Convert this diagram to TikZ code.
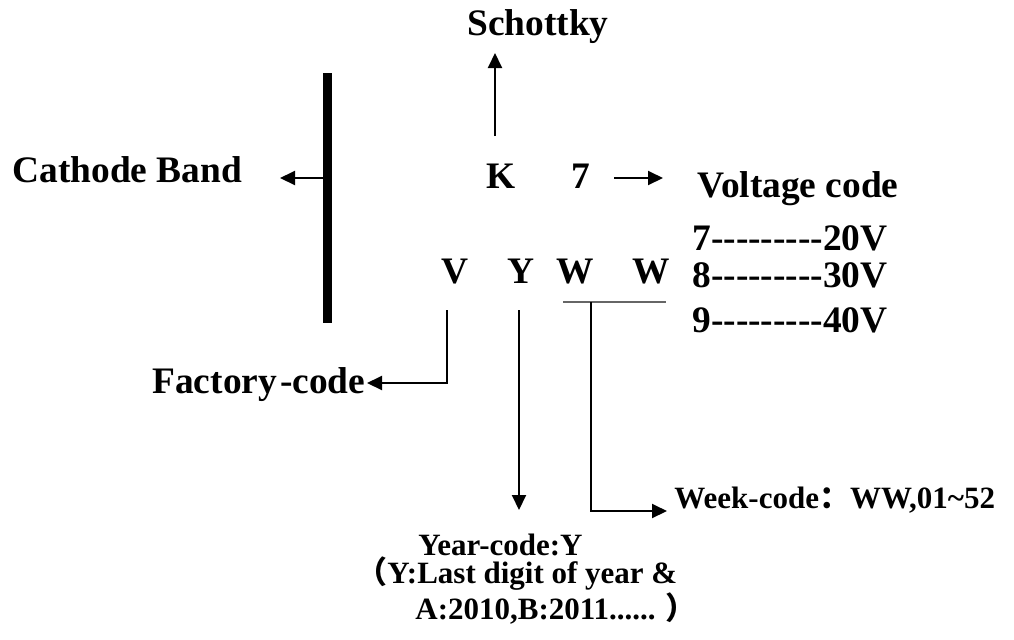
\documentclass[tikz,border=0pt]{standalone}
\usepackage{fontspec}
\setmainfont{Liberation Serif}
\newfontfamily\cjk{Noto Sans CJK SC}
\usetikzlibrary{arrows.meta, calc}

\newcommand{\hy}{\mbox{-}}
\newcommand{\dashrun}{\hy\hy\hy\hy\hy\hy\hy\hy\hy}

\begin{document}
\begin{tikzpicture}[x=0.5pt, y=-0.5pt,
        big/.style={font=\bfseries\fontsize{18.7}{20}\selectfont, inner sep=0pt},
        small/.style={font=\bfseries\fontsize{15.5}{14.2}\selectfont, inner sep=0pt},
        arr/.style={-{Triangle[length=7.5pt,width=7pt]}, line width=1pt},
        wire/.style={line width=1pt}]
        \useasboundingbox (0,0) rectangle (1014,639);

        % marking on the part
        \node[big, anchor=base] (K) at (501,188) {K};
        \node[big, anchor=base] (seven) at (581,188) {7};
        \node[big, anchor=base] (V) at (455,283) {V};
        \node[big, anchor=base] (Y) at (521,283) {Y};
        \node[big, anchor=base] (W1) at (575,283) {W};
        \node[big, anchor=base] (W2) at (651,283) {W};

        % labels
        \node[big, anchor=base] (schottky) at (538,35) {Schottky};
        \node[big, anchor=base west] (cathode) at (12,182) {Cathode Band};
        \node[big, anchor=base west] (volt) at (697,197) {Voltage code};
        \node[big, anchor=base west] (v20) at (692,250) {7\dashrun20V};
        \node[big, anchor=base west] (v30) at (692,287) {8\dashrun30V};
        \node[big, anchor=base west] (v40) at (692,332) {9\dashrun40V};
        \node[big, anchor=base west] (factory) at (152,393) {Factory\hspace{1.5pt}-code};
        \node[small, anchor=base west] (week) at (674,508) {Week-code{\cjk ：}WW,01\textasciitilde52};
        \node[small, anchor=base west, align=left] (year) at (356,619)
            {\hspace*{31pt}Year-code:Y\\
             {\cjk （}Y:Last digit of year \&\\
             \hspace*{29.5pt}A:2010,B:2011...... {\cjk ）}};

        % cathode band
        \coordinate (bandtop) at (327.5,73);
        \coordinate (bandbot) at (327.5,323);
        \draw[line width=4.5pt] (bandtop) -- (bandbot);

        % end points of the connectors
        \coordinate (bandmid) at (327,178);
        \coordinate (cathtip) at (280,178);
        \coordinate (kfoot) at (495,136);
        \coordinate (ktip) at (495,53);
        \coordinate (sevenr) at (614,178);
        \coordinate (volttip) at (663,178);
        \coordinate (vfoot) at (447,310);
        \coordinate (vbend) at (447,383);
        \coordinate (factip) at (367,383);
        \coordinate (yfoot) at (519,310);
        \coordinate (ytip) at (519,510);
        \coordinate (wwl) at (563,302);
        \coordinate (wwr) at (666,302);
        \coordinate (wfoot) at (591,302);
        \coordinate (wbend) at (591,511);
        \coordinate (weektip) at (667,511);

        \draw[arr] (bandmid) -- (cathtip);
        \draw[arr] (kfoot) -- (ktip);
        \draw[arr] (sevenr) -- (volttip);
        \draw[arr] (vfoot) -- (vbend) -- (factip);
        \draw[arr] (yfoot) -- (ytip);
        \draw[black!60, line width=0.6pt] (wwl) -- (wwr);
        \draw[arr] (wfoot) -- (wbend) -- (weektip);
\end{tikzpicture}
\end{document}
